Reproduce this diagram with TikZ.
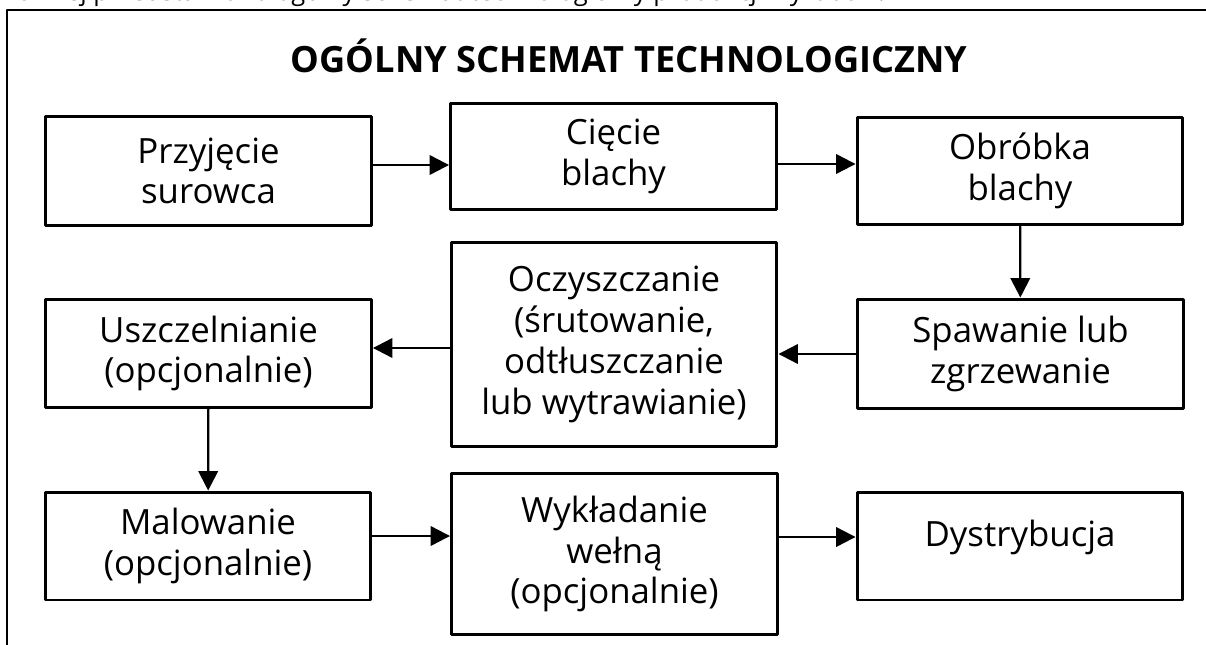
\documentclass[tikz,border=0pt]{standalone}
\usepackage{fontspec}
\setmainfont{Open Sans}
\usetikzlibrary{arrows.meta}
\tikzset{
  etap/.style={draw,line width=1.7pt,align=center,minimum width=6.52cm,inner sep=2pt,font=\fontsize{19.8}{23.2}\selectfont},
  strz/.style={-{Triangle[length=11pt,width=11pt]},line width=1.3pt},
}
\begin{document}
\begin{tikzpicture}[x=0.02cm,y=-0.02cm,line cap=round,line join=round]
			\useasboundingbox (0,0) rectangle (1206,645);
			\begin{scope}
				\clip (0,0) rectangle (1206,645);
				\node[anchor=base west,inner sep=0,font=\fontsize{14.5}{17}\selectfont] (wstep) at (1,1) {Poniżej przedstawiono ogólny schemat technologiczny produkcji wyrobów:};
			\end{scope}
			\draw[line width=1.2pt] (1206,10) -- (7,10) -- (7,645);
			\node[font=\bfseries\fontsize{20.6}{24}\selectfont] (tytul) at (629,56) {OGÓLNY SCHEMAT TECHNOLOGICZNY};
			\node[etap,minimum height=2.2cm] (przyjecie) at (208.5,171) {Przyjęcie\\surowca};
			\node[etap,minimum height=2.14cm] (ciecie) at (613.5,156.5) {Cięcie\\blachy};
			\node[etap,minimum height=2.16cm] (obrobka) at (1020,171) {Obróbka\\blachy};
			\node[etap,minimum height=2.18cm] (uszczelnianie) at (208.5,353.5) {Uszczelnianie\\(opcjonalnie)};
			\node[etap,minimum height=4.1cm] (oczyszczanie) at (614,344.5) {Oczyszczanie\\(śrutowanie,\\odtłuszczanie\\lub wytrawianie)};
			\node[etap,minimum height=2.2cm] (spawanie) at (1020.5,354) {Spawanie lub\\zgrzewanie};
			\node[etap,minimum height=2.16cm] (malowanie) at (208,546) {Malowanie\\(opcjonalnie)};
			\node[etap,minimum height=3.24cm] (wykladanie) at (614.5,554) {Wykładanie\\wełną\\(opcjonalnie)};
			\node[etap,minimum height=2.16cm,text depth=0.5cm] (dystrybucja) at (1020,546) {Dystrybucja};
			\draw[strz] ([yshift=0.12cm]przyjecie.east) -- ([yshift=0.12cm]przyjecie.east -| ciecie.west);
			\draw[strz] ([yshift=-0.15cm]ciecie.east) -- ([yshift=-0.15cm]ciecie.east -| obrobka.west);
			\draw[strz] (obrobka) -- (spawanie);
			\draw[strz] (spawanie.west) -- (spawanie.west -| oczyszczanie.east);
			\draw[strz] ([yshift=-0.07cm]oczyszczanie.west) -- ([yshift=-0.07cm]oczyszczanie.west -| uszczelnianie.east);
			\draw[strz] (uszczelnianie) -- (malowanie);
			\draw[strz] ([yshift=0.2cm]malowanie.east) -- ([yshift=0.2cm]malowanie.east -| wykladanie.west);
			\draw[strz] ([yshift=0.34cm]wykladanie.east) -- ([yshift=0.34cm]wykladanie.east -| dystrybucja.west);
		\end{tikzpicture}
\end{document}
